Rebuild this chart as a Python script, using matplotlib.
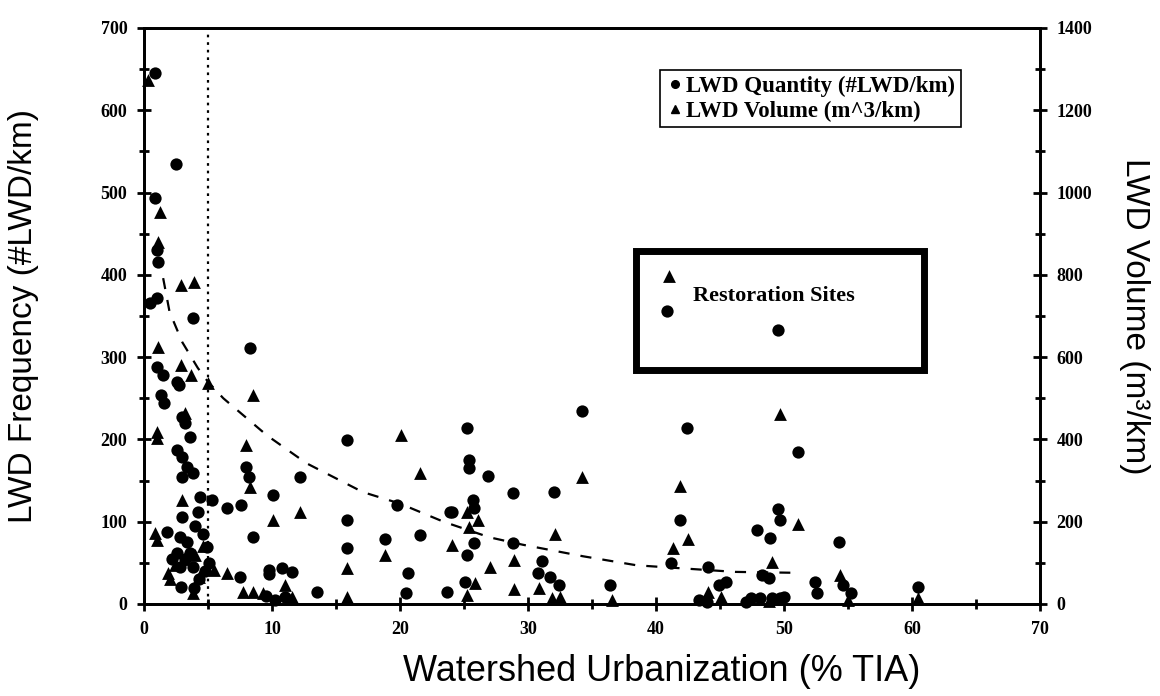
import numpy as np
import matplotlib
matplotlib.use('Agg')
import matplotlib.pyplot as plt
from matplotlib.lines import Line2D
from matplotlib.patches import Rectangle
from matplotlib.ticker import MultipleLocator


# Datos

# LWD Quantity (#LWD/km) vs % TIA
qty_x = [0.9, 2.5, 0.9, 1.0, 1.1, 0.5, 1.0, 3.8, 8.3, 1.0, 1.5, 2.6, 2.7,
         1.3, 1.6, 3.0, 3.2, 3.6, 2.6, 3.0, 3.4, 3.8, 3.0, 8.0, 8.2,
         4.4, 5.3, 6.5, 7.6, 3.0, 4.2, 1.8, 2.8, 8.5, 2.6, 3.6, 4.9,
         2.8, 3.8, 5.1, 7.5, 2.9, 3.2, 4.3, 4.6, 2.2, 3.4, 4.0, 4.8, 3.9,
         15.9, 12.2, 10.1, 15.9, 19.8, 21.6, 23.9, 18.8, 15.9, 20.6,
         9.8, 9.8, 10.8, 11.6, 13.5, 20.5, 23.7, 9.5, 10.2, 11.0,
         34.2, 25.2, 25.4, 25.4, 26.9, 28.8, 32.0, 25.7, 25.8, 24.1,
         25.8, 25.2, 28.8, 31.1, 30.8, 31.7, 32.4, 25.1, 36.4,
         42.4, 41.9, 41.2, 51.1, 49.5, 49.7, 47.9, 48.9, 54.3, 44.1,
         48.3, 48.8, 45.5, 44.9, 52.4, 54.6, 55.2, 52.6, 60.5, 43.4,
         47.4, 48.1, 49.1, 49.7, 50.0, 44.0, 47.0]
qty_y = [645, 535, 493, 430, 415, 366, 372, 348, 311, 288, 278, 270, 266,
         254, 244, 227, 220, 203, 187, 179, 166, 159, 154, 166, 154,
         130, 126, 117, 120, 106, 112, 88, 81, 81, 62, 62, 69,
         45, 45, 50, 33, 21, 55, 30, 85, 55, 75, 95, 40, 20,
         199, 154, 132, 102, 120, 84, 112, 79, 68, 38,
         41, 36, 44, 39, 15, 13, 15, 10, 5, 8,
         235, 214, 175, 165, 156, 135, 136, 126, 117, 112,
         74, 60, 74, 52, 38, 33, 23, 27, 23,
         214, 102, 50, 185, 115, 102, 90, 80, 75, 45,
         35, 32, 27, 23, 27, 23, 13, 13, 21, 5,
         7, 7, 7, 7, 8, 2, 3]

# LWD Volume (m^3/km) vs % TIA
vol_x = [0.3, 1.25, 1.1, 2.9, 3.9, 1.1, 2.9, 3.7, 5.0, 8.5, 8.0, 8.3,
         3.2, 1.0, 1.0, 3.0, 0.9, 1.0, 1.9, 5.5, 6.5, 4.3, 3.8, 7.7, 8.5,
         2.4, 3.1, 4.0, 2.0, 4.6,
         10.1, 12.2, 18.8, 15.9, 20.1, 21.6, 11.0, 9.3, 11.6, 15.9,
         34.2, 25.2, 26.1, 25.4, 24.1, 32.1, 28.9, 27.0, 30.9, 28.9,
         25.9, 25.2, 36.6, 31.9, 32.5,
         41.9, 42.5, 41.3, 49.7, 51.1, 49.1, 54.4, 44.1, 45.1, 60.5,
         48.8, 55.0]
vol_y = [1274, 953, 880, 775, 783, 625, 581, 557, 537, 508, 386, 284,
         464, 418, 403, 253, 173, 156, 75, 83, 75, 66, 27, 29, 29,
         95, 110, 120, 60, 140,
         204, 224, 119, 87, 411, 318, 46, 27, 17, 17,
         309, 224, 204, 187, 143, 170, 107, 90, 39, 36,
         51, 22, 10, 15, 17,
         287, 158, 136, 462, 194, 102, 70, 29, 17, 15,
         8, 10]

# Sitios de restauracion
rest_qty_x = [40.9, 49.5]
rest_qty_y = [356, 333]
rest_vol_x = [41.0]
rest_vol_y = [797]

# Curva de ajuste
fit_x = [1.5, 2.0, 3.0, 4.2, 5.0, 6.2, 9.6, 12.7, 17.1, 20.0, 23.4, 27.0,
         29.6, 34.3, 38.5, 46.2, 50.5]
fit_y = [396, 355, 318, 287, 270, 250, 205, 171, 136, 122, 100, 81,
         72, 58, 47, 39, 38]

tia_threshold = 5

x_ticks = [0, 10, 20, 30, 40, 50, 60, 70]
freq_ticks = [0, 100, 200, 300, 400, 500, 600, 700]
vol_ticks = [0, 200, 400, 600, 800, 1000, 1200, 1400]


fig = plt.figure(figsize=(11.6, 6.96), dpi=100)
ax = fig.add_axes([0.1241, 0.1322, 0.7724, 0.8276])
ax2 = ax.twinx()

tickfont = {'family': 'Liberation Serif', 'weight': 'bold', 'size': 13}

ax.scatter(qty_x, qty_y, s=78, marker='o', color='k', linewidths=0, clip_on=False, zorder=3)
ax.scatter(rest_qty_x, rest_qty_y, s=78, marker='o', color='k', linewidths=0, clip_on=False, zorder=3)
ax2.scatter(vol_x, vol_y, s=85, marker='^', color='k', linewidths=0, clip_on=False, zorder=3)
ax2.scatter(rest_vol_x, rest_vol_y, s=85, marker='^', color='k', linewidths=0, clip_on=False, zorder=3)

ax.plot(fit_x, fit_y, linestyle=(0, (5, 5)), color='k', linewidth=1.6)
ax.axvline(tia_threshold, linestyle=(0, (1.2, 2.2)), color='k', linewidth=1.6)

# Ejes
ax.set_xlim(0, 70)
ax.set_ylim(0, 700)
ax2.set_ylim(0, 1400)

ax.set_xticks(x_ticks)
ax.set_yticks(freq_ticks)
ax2.set_yticks(vol_ticks)
ax.xaxis.set_minor_locator(MultipleLocator(5))
ax.yaxis.set_minor_locator(MultipleLocator(50))
ax2.yaxis.set_minor_locator(MultipleLocator(100))

for a in (ax, ax2):
    for sp in a.spines.values():
        sp.set_linewidth(2)
    a.tick_params(which='major', direction='inout', length=10, width=2, pad=7)
    a.tick_params(which='minor', direction='inout', length=7, width=2)
    for lbl in a.get_xticklabels() + a.get_yticklabels():
        lbl.set_fontproperties(matplotlib.font_manager.FontProperties(**tickfont))

ax.set_xlabel('Watershed Urbanization (% TIA)', family='Liberation Sans', fontsize=26, labelpad=12)
ax.xaxis.label.set_x(0.578)
ax.set_ylabel('LWD Frequency (#LWD/km)', family='Liberation Sans', fontsize=24, labelpad=44)
ax2.set_ylabel('LWD Volume (m³/km)', family='Liberation Sans', fontsize=24, labelpad=19, rotation=270, va='bottom')

# Leyenda
handles = [Line2D([], [], marker='o', color='k', linestyle='None', markersize=5.5),
           Line2D([], [], marker='^', color='k', linestyle='None', markersize=5.5)]
leg = ax2.legend(handles, ['LWD Quantity (#LWD/km)', 'LWD Volume (m^3/km)'],
                 loc='upper right', bbox_to_anchor=(0.912, 0.927),
                 prop={'family': 'Liberation Serif', 'weight': 'bold', 'size': 16.5},
                 handlelength=0.8, handletextpad=0.1, borderpad=0.25, labelspacing=0.15,
                 fancybox=False, framealpha=1, edgecolor='k', borderaxespad=0)
leg.get_frame().set_linewidth(1.2)

# Recuadro de sitios de restauracion
ax2.add_patch(Rectangle((0.549, 0.406), 0.322, 0.207, transform=ax2.transAxes,
                        fill=False, edgecolor='k', linewidth=5, zorder=4))
ax2.text(0.703, 0.534, 'Restoration Sites', transform=ax2.transAxes, ha='center', va='center',
         family='Liberation Serif', weight='bold', fontsize=16)

plt.savefig('out.png', dpi=100)
